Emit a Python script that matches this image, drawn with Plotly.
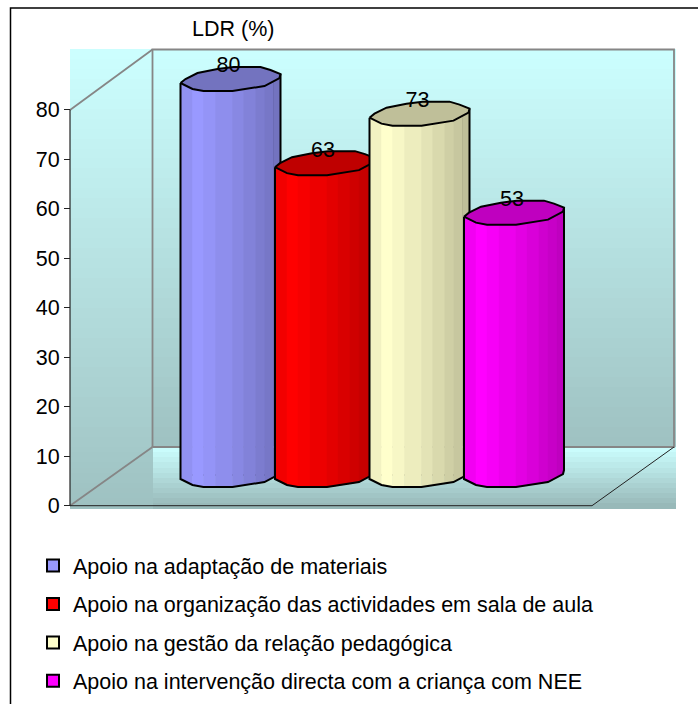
import numpy as np
import plotly.graph_objects as go

# ---- data ----
CATEGORIES = [
    "Apoio na adaptação de materiais",
    "Apoio na organização das actividades em sala de aula",
    "Apoio na gestão da relação pedagógica",
    "Apoio na intervenção directa com a criança com NEE",
]
VALUES = [80, 63, 73, 53]
TICKS = [0, 10, 20, 30, 40, 50, 60, 70, 80]

# ---- styles ----
COLORS = [(153, 153, 255), (255, 0, 0), (255, 255, 204), (255, 0, 255)]
FONT = "Liberation Sans"
FONT_SIZE = 21.5
TEXT = "#000000"
W, H = 698, 704

# ---- scene geometry (pixels of the 698x704 page) ----
X0_PX, X_STEP = 230.5, 94.5     # centre of first cylinder, spacing
Y0_PX, Y_STEP = 505.7, 4.95     # y=0 pixel, pixels per unit
DEPTH = 6.2                     # data units the cylinders sit behind the axis plane


def xp(px):
    return (np.asarray(px, dtype=float) - X0_PX) / X_STEP


def yp(px):
    return (Y0_PX - np.asarray(px, dtype=float)) / Y_STEP


UP_DX = [-50, -45, -33, -13, 3, 30, 40, 50]
UP_DY = [4, 0, -6, -10, -12, -12, -9, -5]
LO_DX = [-50, -38, -27, 2, 34, 49, 50]
LO_DY = [4, 10, 12, 12, 7, -1, -5]
BAND_DX = [-50, -38, -27, -15, 2, 13, 25, 34, 43, 50]
BAND_SHADE = [0.95, 1.0, 0.97, 0.93, 0.89, 0.85, 0.81, 0.78, 0.75]
CAP_SHADE = 0.75

GRAY = "#868686"
fig = go.Figure()

# ---- gradient walls and floor ----
SIDE_L, BACK_L, BACK_R, FLOOR_R = 70, 152.5, 674, 676
TOP, FLOOR_Y, BOTTOM = 49, 447, 508.5
rows = np.concatenate([np.linspace(BOTTOM, FLOOR_Y, 13), np.linspace(FLOOR_Y, TOP, 41)[1:]])
row_mid = (rows[:-1] + rows[1:]) / 2
side = 0.85 * (row_mid - TOP) / (BOTTOM - TOP)
back = np.where(row_mid > FLOOR_Y, (row_mid - FLOOR_Y) / (BOTTOM - FLOOR_Y),
                0.85 * (row_mid - TOP) / (FLOOR_Y - TOP))
fig.add_trace(go.Heatmap(
    x=xp([SIDE_L, BACK_L, FLOOR_R]), y=yp(rows), z=np.column_stack([side, back]),
    zmin=0, zmax=1, colorscale=[[0, "#CCFFFF"], [1, "#96B6B6"]],
    showscale=False, hoverinfo="skip", xgap=0, ygap=0,
))

# ---- real bars carry the values and the legend ----
for i, (cat, val, col) in enumerate(zip(CATEGORIES, VALUES, COLORS)):
    fig.add_trace(go.Bar(
        x=[i], y=[val], base=DEPTH, width=0.9, name=cat, legendgroup=cat,
        marker=dict(color="rgb(%d,%d,%d)" % col, line=dict(color="black", width=2)),
        hoverinfo="name+y",
    ))

# ---- wall outlines ----
fig.add_trace(go.Scatter(
    x=xp([BACK_L, BACK_L, 674, 674, BACK_L, None, 70, BACK_L, None, 70, BACK_L]),
    y=yp([447, 49.5, 49.5, 447, 447, None, 110, 49.5, None, 505.7, 447]),
    mode="lines", line=dict(color=GRAY, width=1.8), showlegend=False, hoverinfo="skip",
))
fig.add_trace(go.Scatter(
    x=xp([70, 592, 674]), y=yp([505.7, 505.7, 447]),
    mode="lines", line=dict(color="#222222", width=1), showlegend=False, hoverinfo="skip",
))
fig.add_trace(go.Scatter(
    x=xp([70, 70]), y=[0, 80],
    mode="lines", line=dict(color="#222222", width=1.2), showlegend=False, hoverinfo="skip",
))

# ---- faceted cylinders ----
for i, (cat, val, col) in enumerate(zip(CATEGORIES, VALUES, COLORS)):
    top_y = val + DEPTH
    for a, b, s in zip(BAND_DX[:-1], BAND_DX[1:], BAND_SHADE):
        inside = [d for d in LO_DX if a < d < b]
        dxs = [a] + inside + [b]
        dys = np.interp(dxs, LO_DX, LO_DY)
        xs = i + np.array(dxs) / X_STEP
        bottom = DEPTH - dys / Y_STEP
        upper = top_y - dys / Y_STEP
        shade = "rgb(%d,%d,%d)" % tuple(int(round(c * s)) for c in col)
        fig.add_trace(go.Scatter(
            x=np.concatenate([xs, xs[::-1], xs[:1]]),
            y=np.concatenate([bottom, upper[::-1], bottom[:1]]),
            mode="lines", fill="toself", fillcolor=shade, line=dict(color=shade, width=0.5),
            showlegend=False, legendgroup=cat, hoverinfo="skip",
        ))
    lo_x = i + np.array(LO_DX) / X_STEP
    lo_y = DEPTH - np.array(LO_DY) / Y_STEP
    fig.add_trace(go.Scatter(
        x=np.concatenate([[lo_x[0]], lo_x, [lo_x[-1]]]),
        y=np.concatenate([[top_y - LO_DY[0] / Y_STEP], lo_y, [top_y - LO_DY[-1] / Y_STEP]]),
        mode="lines", line=dict(color="black", width=2),
        showlegend=False, legendgroup=cat, hoverinfo="skip",
    ))
    cap_dx = np.array(UP_DX + LO_DX[::-1][1:])
    cap_dy = np.array(UP_DY + LO_DY[::-1][1:])
    cap = "rgb(%d,%d,%d)" % tuple(int(round(c * CAP_SHADE)) for c in col)
    fig.add_trace(go.Scatter(
        x=i + cap_dx / X_STEP, y=top_y - cap_dy / Y_STEP,
        mode="lines", fill="toself", fillcolor=cap, line=dict(color="black", width=2),
        showlegend=False, legendgroup=cat, hoverinfo="skip",
    ))

# ---- value labels ----
fig.add_trace(go.Scatter(
    x=np.arange(len(VALUES)) - 2 / X_STEP, y=np.array(VALUES) + DEPTH + 12 / Y_STEP,
    mode="text", text=[str(v) for v in VALUES], textposition="middle center",
    textfont=dict(family=FONT, size=FONT_SIZE, color=TEXT),
    showlegend=False, hoverinfo="skip",
))

fig.update_layout(
    width=W, height=H, margin=dict(l=0, r=0, t=0, b=0, pad=0, autoexpand=False),
    paper_bgcolor="white", plot_bgcolor="rgba(0,0,0,0)",
    font=dict(family=FONT, size=FONT_SIZE, color=TEXT),
    barmode="overlay",
    xaxis=dict(range=[xp(0), xp(W)], visible=False, fixedrange=True),
    yaxis=dict(
        range=[yp(H), yp(0)], tickmode="array", tickvals=TICKS,
        ticks="outside", ticklen=6, tickcolor="#222222", tickwidth=1.2,
        showgrid=False, zeroline=False, showline=False,
        anchor="free", position=70 / W, side="left", fixedrange=True,
        tickfont=dict(family=FONT, size=FONT_SIZE, color=TEXT),
    ),
    legend=dict(
        x=33 / W, y=1 - 545 / H, xanchor="left", yanchor="top",
        bgcolor="rgba(0,0,0,0)", borderwidth=0, tracegroupgap=7.5,
        font=dict(family=FONT, size=FONT_SIZE, color=TEXT),
        traceorder="grouped",
    ),
    annotations=[dict(
        text="LDR (%)", x=233 / W, y=1 - 29 / H, xref="paper", yref="paper",
        xanchor="center", yanchor="middle", showarrow=False,
        font=dict(family=FONT, size=FONT_SIZE, color=TEXT),
    )],
    shapes=[dict(
        type="rect", xref="paper", yref="paper", layer="below",
        x0=10.5 / W, x1=1.05, y0=-0.05, y1=1 - 8 / H,
        line=dict(color="black", width=1.5), fillcolor="white",
    )],
)

fig.write_html("out.html", config={"displayModeBar": False},
               post_script="document.body.style.margin='0';document.body.style.overflow='hidden';")
